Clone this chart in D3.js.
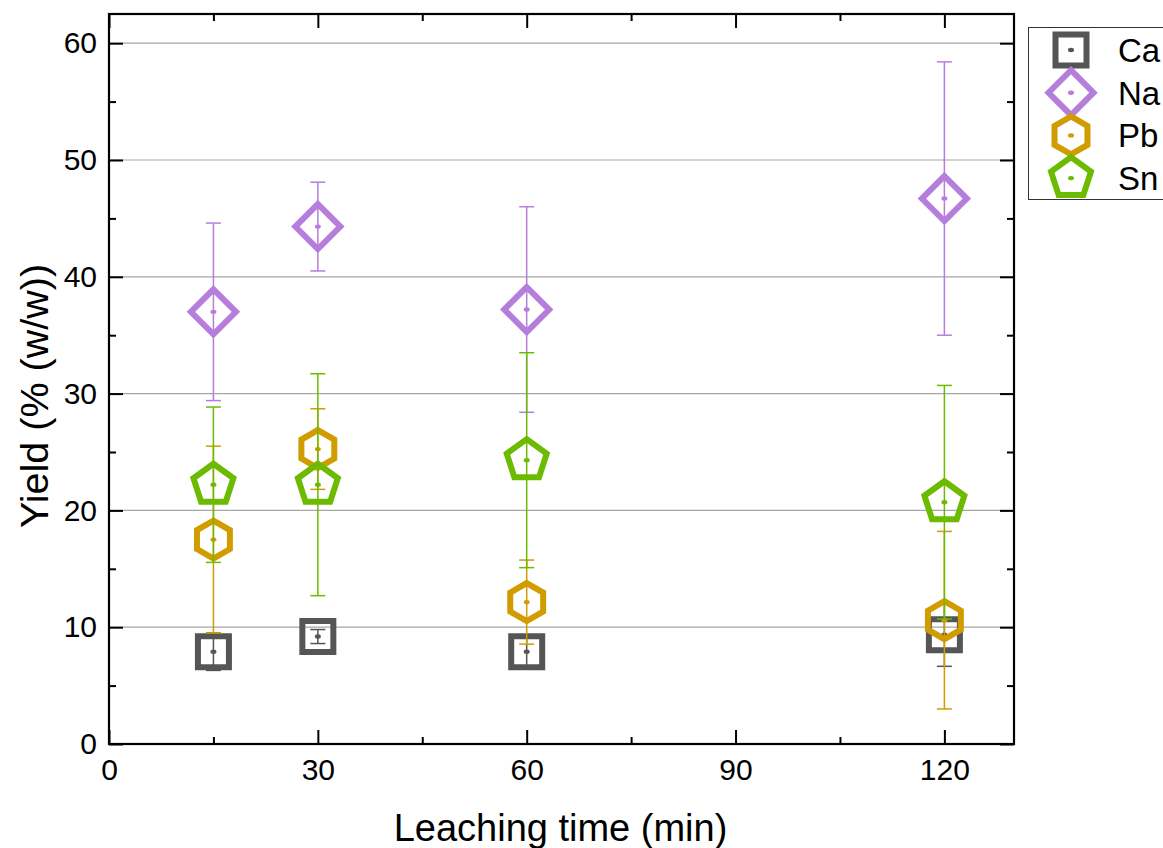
<!DOCTYPE html>
<html><head><meta charset="utf-8">
<script src="https://cdn.jsdelivr.net/npm/d3@7/dist/d3.min.js"></script>
<style>body{margin:0;background:#fff;}svg{display:block;font-family:Arial,"Liberation Sans",sans-serif;}</style>
</head><body><svg id="c" width="1163" height="848"></svg>
<script>
const times = [15, 30, 60, 120];
const seriesNames = ["Ca", "Na", "Pb", "Sn"];
const caValues = [7.9, 9.2, 7.9, 9.35];
const caErrors = [1.6, 0.6, 1.4, 2.7];
const naValues = [37.0, 44.3, 37.2, 46.7];
const naErrors = [7.6, 3.8, 8.8, 11.7];
const pbValues = [17.5, 25.25, 12.15, 10.6];
const pbErrors = [8.0, 3.45, 3.6, 7.6];
const snValues = [22.2, 22.2, 24.3, 20.7];
const snErrors = [6.65, 9.5, 9.2, 10.0];
const xTicks = [0, 30, 60, 90, 120];
const xMinor = [15, 45, 75, 105];
const yTicks = [0, 10, 20, 30, 40, 50, 60];
const yMinor = [5, 15, 25, 35, 45, 55];
const colors = ["#555555", "#b57edc", "#d19c00", "#6cbb00"];
const shapes = ["square", "diamond", "hexagon", "pentagon"];

const series = seriesNames.map((n, i) => ({
  name: n, color: colors[i], shape: shapes[i],
  values: [caValues, naValues, pbValues, snValues][i],
  errors: [caErrors, naErrors, pbErrors, snErrors][i]
}));

const L = 109, R = 1014, T = 14, B = 744;
const x = d3.scaleLinear().domain([0, 130]).range([L, R]);
const y = d3.scaleLinear().domain([0, 62.5]).range([B, T]);
const svg = d3.select("#c");

function shapePath(shape) {
  const p = d3.path();
  let pts = [];
  if (shape === "square") { const s = 15.5; pts = [[-s,-s],[s,-s],[s,s],[-s,s]]; }
  else if (shape === "diamond") { const s = 22.5; pts = [[0,-s],[s,0],[0,s],[-s,0]]; }
  else if (shape === "hexagon") { const r = 19; for (let k=0;k<6;k++){const a=-Math.PI/2+k*Math.PI/3; pts.push([r*Math.cos(a), r*Math.sin(a)]);} }
  else { const r = 21; for (let k=0;k<5;k++){const a=-Math.PI/2+k*2*Math.PI/5; pts.push([r*Math.cos(a), r*Math.sin(a)]);} }
  pts.forEach((q, k) => k ? p.lineTo(q[0], q[1]) : p.moveTo(q[0], q[1]));
  p.closePath();
  return p.toString();
}

// gridlines
svg.append("g").selectAll("line").data(yTicks.filter(v => v > 0)).join("line")
  .attr("x1", L).attr("x2", R).attr("y1", d => y(d)).attr("y2", d => y(d))
  .attr("stroke", "#a6a6a6").attr("stroke-width", 1.2);

// axes (ticks inside)
function ax(gen, tr) {
  const g = svg.append("g").attr("transform", tr).call(gen);
  g.select(".domain").remove();
  g.selectAll("line").attr("stroke", "#000").attr("stroke-width", 2);
  return g;
}
ax(d3.axisBottom(x).tickValues(xTicks).tickSize(-14).tickPadding(15).tickFormat(d3.format("d")), `translate(0,${B})`)
  .selectAll("text").attr("font-size", 30).attr("fill", "#000");
ax(d3.axisBottom(x).tickValues(xMinor).tickSize(-7).tickFormat(""), `translate(0,${B})`);
ax(d3.axisTop(x).tickValues(xTicks).tickSize(-14).tickFormat(""), `translate(0,${T})`);
ax(d3.axisTop(x).tickValues(xMinor).tickSize(-7).tickFormat(""), `translate(0,${T})`);
ax(d3.axisLeft(y).tickValues(yTicks).tickSize(-14).tickPadding(12).tickFormat(d3.format("d")), `translate(${L},0)`)
  .selectAll("text").attr("font-size", 30).attr("fill", "#000");
ax(d3.axisLeft(y).tickValues(yMinor).tickSize(-7).tickFormat(""), `translate(${L},0)`);
ax(d3.axisRight(y).tickValues(yTicks).tickSize(-14).tickFormat(""), `translate(${R},0)`);
ax(d3.axisRight(y).tickValues(yMinor).tickSize(-7).tickFormat(""), `translate(${R},0)`);

// frame
svg.append("rect").attr("x", L).attr("y", T).attr("width", R - L).attr("height", B - T)
  .attr("fill", "none").attr("stroke", "#000").attr("stroke-width", 2.2);

// data
const cap = 7.5;
series.forEach(s => {
  const g = svg.append("g");
  const pts = times.map((t, i) => ({t, v: s.values[i], e: s.errors[i]}));
  const eb = g.append("g").attr("stroke", s.color).attr("stroke-width", 1.5);
  pts.forEach(d => {
    eb.append("line").attr("x1", x(d.t)).attr("x2", x(d.t)).attr("y1", y(d.v - d.e)).attr("y2", y(d.v + d.e));
    [d.v - d.e, d.v + d.e].forEach(v => eb.append("line").attr("x1", x(d.t) - cap).attr("x2", x(d.t) + cap).attr("y1", y(v)).attr("y2", y(v)));
  });
  g.selectAll("path.m").data(pts).join("path").attr("class", "m")
    .attr("d", shapePath(s.shape)).attr("transform", d => `translate(${x(d.t)},${y(d.v)})`)
    .attr("fill", "none").attr("stroke", s.color).attr("stroke-width", 6);
  g.selectAll("ellipse").data(pts).join("ellipse")
    .attr("cx", d => x(d.t)).attr("cy", d => y(d.v)).attr("rx", 3).attr("ry", 2.2).attr("fill", s.color);
});

// legend
const lg = svg.append("g");
lg.append("rect").attr("x", 1028.5).attr("y", 27.5).attr("width", 160).attr("height", 172)
  .attr("fill", "#fff").attr("stroke", "#333").attr("stroke-width", 1);
series.forEach((s, i) => {
  const cy = 50 + i * 42.7;
  lg.append("path").attr("d", shapePath(s.shape)).attr("transform", `translate(1071,${cy})`)
    .attr("fill", "none").attr("stroke", s.color).attr("stroke-width", 6);
  lg.append("ellipse").attr("cx", 1071).attr("cy", cy).attr("rx", 3).attr("ry", 2.2).attr("fill", s.color);
  lg.append("text").attr("x", 1118).attr("y", cy + 12).attr("font-size", 33).text(s.name);
});

// titles
svg.append("text").attr("x", (L + R) / 2 - 1).attr("y", 841).attr("text-anchor", "middle")
  .attr("font-size", 38).text("Leaching time (min)");
svg.append("text").attr("transform", `translate(48,396) rotate(-90)`).attr("text-anchor", "middle")
  .attr("font-size", 39.5).text("Yield (% (w/w))");
</script></body></html>
